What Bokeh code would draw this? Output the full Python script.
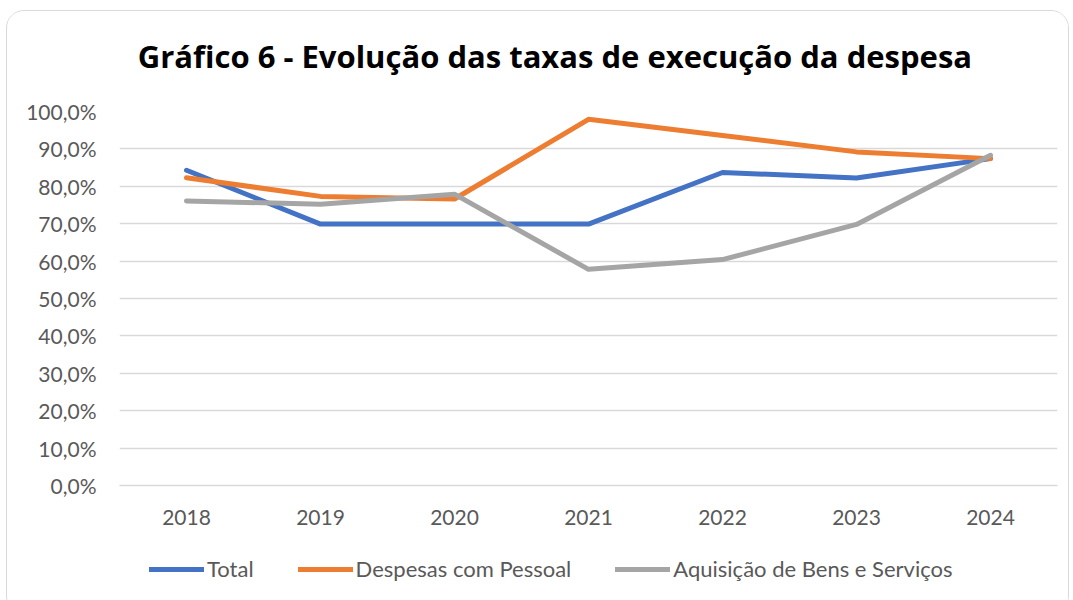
from bokeh.plotting import figure
from bokeh.layouts import column
from bokeh.models import (FactorRange, Range1d, FixedTicker, Legend, LegendItem, Label)
from bokeh.embed import file_html
from bokeh.resources import INLINE

years = ["2018", "2019", "2020", "2021", "2022", "2023", "2024"]
total = [84.3, 69.9, 69.9, 69.9, 83.7, 82.2, 87.4]
pessoal = [82.3, 77.3, 76.6, 97.9, 93.6, 89.2, 87.4]
aquisicao = [76.1, 75.2, 77.9, 57.8, 60.4, 69.8, 88.3]
y_ticks = [0, 10, 20, 30, 40, 50, 60, 70, 80, 90, 100]
y_labels = ["0,0%", "10,0%", "20,0%", "30,0%", "40,0%", "50,0%", "60,0%",
            "70,0%", "80,0%", "90,0%", "100,0%"]
title_text = "Gráfico 6 - Evolução das taxas de execução da despesa"
names = ["Total", "Despesas com Pessoal", "Aquisição de Bens e Serviços"]

FONT = "Lato"
OX, OY = 6, 10             # chart box origin in the window
CX, CY = OX + 1.5, OY + 1.5  # content origin inside the border
W = 1061

# title strip
H0 = 80
p0 = figure(width=W, height=H0, output_backend="svg", toolbar_location=None,
            min_border=0, x_range=Range1d(0, W), y_range=Range1d(0, H0),
            x_axis_type=None, y_axis_type=None)
p0.grid.visible = False
p0.outline_line_color = None
p0.border_fill_color = "white"
p0.background_fill_color = "white"
p0.add_layout(Label(x=500 - CX, y=H0 - (56 - CY), text=title_text,
                    text_align="center", text_baseline="middle",
                    text_font="Open Sans", text_font_size="31px",
                    text_font_style="bold", text_color="black"))

# main chart
top = CY + H0
H = 452
FL, FR = round(119 - CX), round(1058 - CX)
FT, FB = round(111 - top), round(485 - top)

p = figure(width=W, height=H, x_range=FactorRange(*years, range_padding=0),
           y_range=Range1d(0, 100), output_backend="svg", toolbar_location=None,
           min_border_left=FL, min_border_right=W - FR, min_border_top=FT,
           min_border_bottom=H - FB)
p.x_range.factor_padding = 0
p.outline_line_color = None
p.background_fill_color = "white"
p.border_fill_color = "white"

colors = ["#4472C4", "#ED7D31", "#A5A5A5"]
series_list = [total, pessoal, aquisicao]
for series, c in zip(series_list, colors):
    p.line(years, series, line_color=c, line_width=5, line_cap="round",
           line_join="round")

p.yaxis.ticker = FixedTicker(ticks=y_ticks)
p.yaxis.major_label_overrides = {t: l for t, l in zip(y_ticks, y_labels)}
p.yaxis.axis_line_color = None
p.yaxis.major_tick_line_color = None
p.yaxis.minor_tick_line_color = None
p.yaxis.major_label_standoff = 17
p.yaxis.major_label_text_font = FONT
p.yaxis.major_label_text_font_size = "21px"
p.yaxis.major_label_text_color = "#595959"

p.xaxis.axis_line_color = "#d9d9d9"
p.xaxis.axis_line_width = 1.5
p.xaxis.major_tick_line_color = None
p.xaxis.minor_tick_line_color = None
p.xaxis.major_label_standoff = 18
p.xaxis.major_label_text_font = FONT
p.xaxis.major_label_text_font_size = "21px"
p.xaxis.major_label_text_color = "#595959"

p.xgrid.grid_line_color = None
p.ygrid.grid_line_color = "#d9d9d9"
p.ygrid.grid_line_width = 1.5

# legend strip (same series drawn outside its visible y range)
H2 = 70
p2 = figure(width=W, height=H2, output_backend="svg", toolbar_location=None,
            min_border=0, x_range=FactorRange(*years), y_range=Range1d(500, 600),
            x_axis_type=None, y_axis_type=None)
p2.grid.visible = False
p2.outline_line_color = None
p2.border_fill_color = "white"
p2.background_fill_color = "white"
leg_r = [p2.line(years, s, line_color=c, line_width=5, line_cap="round")
         for s, c in zip(series_list, colors)]
legend = Legend(items=[LegendItem(label=n, renderers=[r]) for n, r in zip(names, leg_r)],
                orientation="horizontal", location=(30, 31),
                glyph_width=55, glyph_height=20, label_standoff=3, spacing=44,
                label_text_font=FONT, label_text_font_size="22px",
                label_text_color="#595959", border_line_color=None,
                background_fill_alpha=0, padding=8, margin=0)
p2.add_layout(legend, "center")

layout = column(p0, p, p2, spacing=0)
layout.margin = (OY, 0, 0, OX)
layout.styles = {"border": "1.5px solid #d9d9d9", "border-radius": "18px",
                 "overflow": "hidden", "background-color": "white"}

open("out.html", "w").write(file_html(layout, INLINE))
